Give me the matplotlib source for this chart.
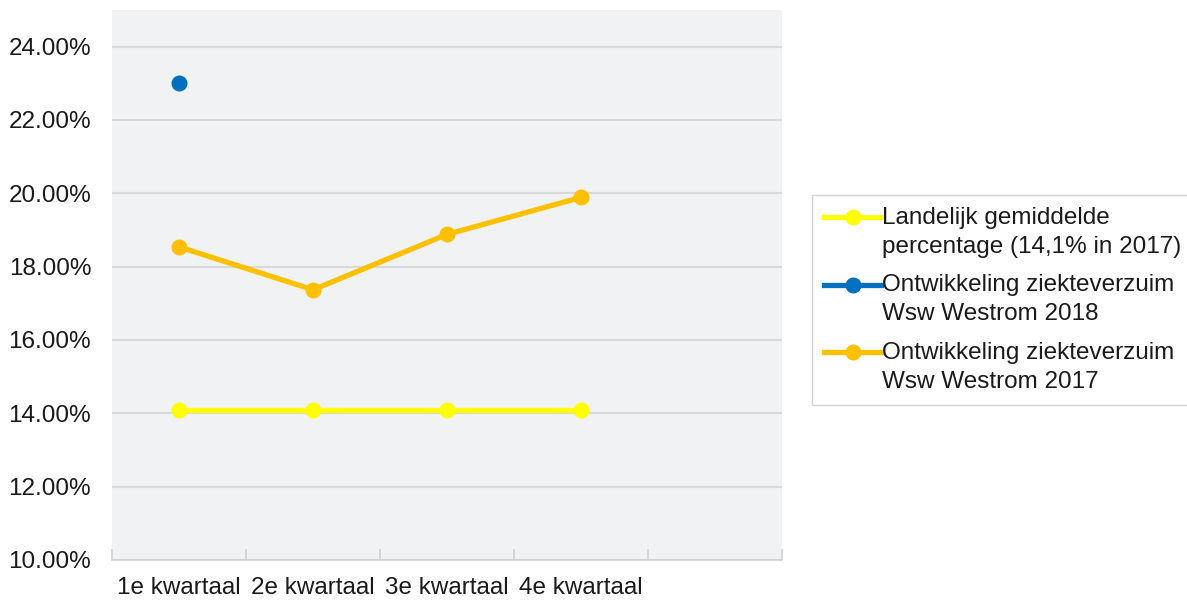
import matplotlib
matplotlib.use("Agg")
import matplotlib.pyplot as plt
from matplotlib.ticker import FuncFormatter, FixedLocator
from matplotlib.legend_handler import HandlerLine2D

categories = ["1e kwartaal", "2e kwartaal", "3e kwartaal", "4e kwartaal", ""]
landelijk = [14.1, 14.1, 14.1, 14.1]
westrom_2018 = [23.0]
westrom_2017 = [18.54, 17.37, 18.88, 19.89]
labels = ["Landelijk gemiddelde\npercentage (14,1% in 2017)",
          "Ontwikkeling ziekteverzuim\nWsw Westrom 2018",
          "Ontwikkeling ziekteverzuim\nWsw Westrom 2017"]
yticks = [10, 12, 14, 16, 18, 20, 22, 24]


class UpHandler(HandlerLine2D):
    def create_artists(self, legend, orig_handle, xdescent, ydescent, width, height, fontsize, trans):
        return super().create_artists(legend, orig_handle, xdescent, ydescent - 22,
                                      width, height, fontsize, trans)


plt.rcParams['font.family'] = ['Liberation Sans', 'DejaVu Sans']
fig = plt.figure(figsize=(11.87, 6.0), dpi=100)
ax = fig.add_axes([112/1187, 40/600, 670/1187, 550/600])
ax.set_facecolor('#f1f2f4')

fs = 17.5
x = list(range(len(categories)))
lw, ms = 3.8, 10.5
l1, = ax.plot(x[:len(landelijk)], landelijk, color='#FFFF00', lw=lw, marker='o', ms=ms, label=labels[0], zorder=3)
l2, = ax.plot(x[:len(westrom_2018)], westrom_2018, color='#0070C0', lw=lw, marker='o', ms=ms, label=labels[1], zorder=4)
l3, = ax.plot(x[:len(westrom_2017)], westrom_2017, color='#FFC000', lw=lw, marker='o', ms=ms, label=labels[2], zorder=3)

ax.set_xlim(-0.5, len(categories) - 0.5)
ax.set_ylim(10, 25)
ax.set_yticks(yticks)
ax.yaxis.set_major_formatter(FuncFormatter(lambda v, p: f"{v:.2f}%"))
ax.grid(axis='y', color='#d9d9d9', lw=1.5)
ax.set_axisbelow(True)
ax.set_xticks(x)
ax.set_xticklabels(categories)
ax.xaxis.set_minor_locator(FixedLocator([i - 0.5 for i in range(len(categories) + 1)]))
ax.tick_params(axis='x', which='major', length=0, labelsize=fs, pad=12, colors='#1a1a1a')
ax.tick_params(axis='x', which='minor', length=8, direction='in', color='#d0d0d0', width=1.2)
ax.tick_params(axis='y', length=0, labelsize=fs, pad=15, colors='#1a1a1a')
for s in ['top', 'right', 'left']:
    ax.spines[s].set_visible(False)
ax.spines['bottom'].set_color('#d0d0d0')
ax.spines['bottom'].set_linewidth(1.2)

h = UpHandler()
leg = fig.legend(handles=[l1, l2, l3], loc='upper left', bbox_to_anchor=(812/1187, 1 - 195/600), fontsize=fs,
                 frameon=True, fancybox=False, edgecolor='#c8c8c8', handlelength=2.35,
                 handletextpad=0.05, borderpad=0.5, labelspacing=0.68, borderaxespad=0,
                 handler_map={l1: h, l2: h, l3: h})
leg.get_frame().set_linewidth(1.0)
for t in leg.get_texts():
    t.set_color('#1a1a1a')
    t.set_linespacing(1.4)

fig.savefig("out.png", dpi=100)
